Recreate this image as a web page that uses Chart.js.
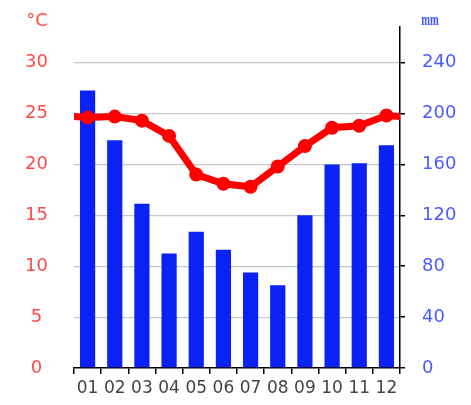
<!DOCTYPE html>
<html>
<head>
<meta charset="utf-8">
<script src="https://cdn.jsdelivr.net/npm/chart.js@4.4.1/dist/chart.umd.min.js"></script>
<style>
  html, body { margin: 0; padding: 0; background: #fff; }
  #wrap { width: 471px; height: 405px; position: relative; }
</style>
</head>
<body>
<div id="wrap"><canvas id="climateChart"></canvas></div>
<script>
// DATA
const months = ['01', '02', '03', '04', '05', '06', '07', '08', '09', '10', '11', '12'];
const tempC = [24.6, 24.7, 24.3, 22.8, 19.0, 18.1, 17.8, 19.8, 21.8, 23.6, 23.8, 24.8];
const rainMm = [218, 179, 129, 90, 107, 93, 75, 65, 120, 160, 161, 175];
const tempTicks = [0, 5, 10, 15, 20, 25, 30];
const rainTicks = [0, 40, 80, 120, 160, 200, 240];

// line runs into the edges, so wrap Dec before Jan and Jan after Dec
const tempPoints = [{ x: -0.5, y: tempC[11] }]
    .concat(tempC.map((t, i) => ({ x: i + 0.5, y: t })))
    .concat([{ x: 12.5, y: tempC[0] }]);

// unit labels above both axes
const unitLabels = {
    id: 'unitLabels',
    afterDraw(chart) {
        const ctx = chart.ctx;
        ctx.save();
        ctx.textBaseline = 'middle';
        ctx.textAlign = 'center';
        ctx.fillStyle = '#ff4a4a';
        ctx.font = '18px "DejaVu Sans"';
        ctx.fillText('°C', 37, 21);
        // narrow, heavy "mm" like the original
        ctx.fillStyle = '#3f55ff';
        ctx.font = 'bold 16px "Liberation Serif"';
        ctx.translate(430, 21);
        ctx.scale(0.66, 1);
        ctx.fillText('mm', 0, 0);
        ctx.restore();
    }
};

// drop the extra top/bottom room Chart.js adds for the tick labels
function noVerticalPadding(scale) {
    scale.paddingTop = 0;
    scale.paddingBottom = 0;
}

function setupClimateChart() {
    const ctx = document.getElementById('climateChart').getContext('2d');

    return new Chart(ctx, {
        data: {
            labels: months,
            datasets: [
                {
                    type: 'line',
                    label: '°C',
                    data: tempPoints,
                    xAxisID: 'xLine',
                    yAxisID: 'y',
                    borderColor: '#ff0000',
                    backgroundColor: '#ff0000',
                    borderWidth: 7,
                    pointRadius: 7,
                    pointBorderWidth: 0,
                    tension: 0,
                    clip: 0,
                    order: 0
                },
                {
                    type: 'bar',
                    label: 'mm',
                    data: rainMm,
                    xAxisID: 'x',
                    yAxisID: 'y2',
                    backgroundColor: '#0a22f5',
                    grouped: false,
                    barPercentage: 0.56,
                    categoryPercentage: 1,
                    order: 1
                }
            ]
        },
        options: {
            responsive: true,
            maintainAspectRatio: false,
            animation: false,
            layout: { padding: { left: 0, right: 0, top: 27, bottom: 2.6 } },
            plugins: {
                legend: { display: false },
                tooltip: { enabled: false }
            },
            scales: {
                x: {
                    type: 'category',
                    offset: true,
                    grid: { offset: true, drawOnChartArea: false, drawTicks: true, tickLength: 6, color: '#000', lineWidth: 1.5 },
                    border: { display: true, color: '#000', width: 1.5 },
                    ticks: { color: '#444', font: { family: 'DejaVu Sans', size: 17 }, padding: 4, maxRotation: 0, autoSkip: false }
                },
                xLine: {
                    type: 'linear',
                    display: false,
                    min: 0,
                    max: 12
                },
                y: {
                    position: 'left',
                    min: 0,
                    max: 33.5,
                    afterBuildTicks: (scale) => { scale.ticks = tempTicks.map(v => ({ value: v })); },
                    afterFit: (scale) => { scale.width = 74; noVerticalPadding(scale); },
                    grid: {
                        drawTicks: false,
                        color: (c) => c.tick && c.tick.value === 0 ? 'rgba(0,0,0,0)' : '#c8c8c8',
                        lineWidth: 1.2
                    },
                    border: { display: false },
                    ticks: { color: '#ff4a4a', font: { family: 'DejaVu Sans', size: 18 }, padding: 26, crossAlign: 'center' }
                },
                y2: {
                    position: 'right',
                    min: 0,
                    max: 268,
                    afterBuildTicks: (scale) => { scale.ticks = rainTicks.map(v => ({ value: v })); },
                    afterFit: (scale) => { scale.width = 71; noVerticalPadding(scale); },
                    grid: { drawOnChartArea: false, drawTicks: true, tickLength: 5, color: '#000', lineWidth: 1.5 },
                    border: { display: true, color: '#000', width: 1.5 },
                    ticks: { color: '#4a5cff', font: { family: 'DejaVu Sans', size: 18 }, padding: 17 }
                }
            }
        },
        plugins: [unitLabels]
    });
}

document.addEventListener('DOMContentLoaded', () => {
    setupClimateChart();
});
</script>
</body>
</html>
